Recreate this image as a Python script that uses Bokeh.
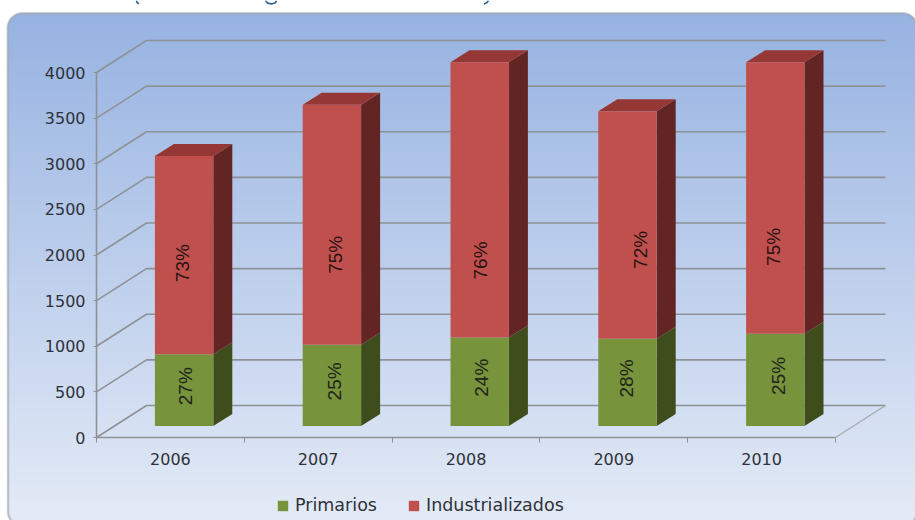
import numpy as np
from bokeh.core.properties import value
from bokeh.embed import file_html
from bokeh.models import FixedTicker, Legend, LegendItem, LinearAxis, Range1d
from bokeh.plotting import figure
from bokeh.resources import INLINE

# Export values per year, split into primary and manufactured goods
anios = ["2006", "2007", "2008", "2009", "2010"]
primarios = [785, 890, 970, 955, 1010]
industrializados = [2175, 2630, 3015, 2495, 2975]
ticks_y = [0, 500, 1000, 1500, 2000, 2500, 3000, 3500, 4000]

# Percentage label placement: height above the seam, sideways nudge in pixels
altura_etiqueta = [1000, 986, 844, 975, 953]
desvio_sup = [-2, 4, 1, 12.5, -2]
desvio_inf = [1.5, 3, 1.5, -1, 3]

W, H = 915, 520
AX_X, AX_Y = 96, 437           # canvas position of the (first edge, 0) corner
UNIT_X = 147.8                 # pixels per category
KY = 4000 / 365                # value units per pixel
KX = 1 / UNIT_X                # category units per pixel

x_start = -0.5 - AX_X * KX
y_start = -(H - AX_Y) * KY

p = figure(
    width=W, height=H, output_backend="svg", toolbar_location=None,
    x_range=Range1d(x_start, x_start + W * KX),
    y_range=Range1d(y_start, y_start + H * KY),
    x_axis_type=None, y_axis_type=None, min_border=0,
)
p.grid.visible = False
p.outline_line_color = None
p.background_fill_alpha = 0
p.border_fill_color = "#ffffff"

# Rounded panel with a vertical gradient
yy, xx = np.mgrid[0:H, 0:W] + 0.5
L, T, R, B, RAD = 7.0, 12.5, 917.0, 526.0, 15.0
qx = np.abs(xx - (L + R) / 2) - ((R - L) / 2 - RAD)
qy = np.abs(yy - (T + B) / 2) - ((B - T) / 2 - RAD)
sd = np.hypot(np.maximum(qx, 0), np.maximum(qy, 0)) + np.minimum(np.maximum(qx, qy), 0) - RAD
t = np.clip((yy - T) / (H - T), 0, 1)[..., None]
top_col, bot_col = np.array([151, 179, 226.0]), np.array([228, 235, 247.0])
rgb = top_col * (1 - t) + bot_col * t
edge = np.clip(1.2 - np.abs(sd + 0.6), 0, 1)[..., None]
rgb = rgb * (1 - edge) + np.array([165, 168, 172.0]) * edge
inside = np.clip(0.5 - sd + 0.6, 0, 1)
img = np.dstack([rgb, inside * 255]).astype(np.uint8)[::-1]
p.image_rgba(image=[img.view(np.uint32).reshape(H, W)], x=x_start, y=y_start,
             dw=W * KX, dh=H * KY)


def lienzo_x(px):
    return -0.5 + (px - AX_X) * KX


def lienzo_y(py):
    return (AX_Y - py) * KY


# Tail strokes of the heading that runs off the top of the page
for pts in ([(136, 0), (136.5, 2), (138.5, 3.2)],
            [(265, 0), (267, 2.6), (271, 3.4), (275, 2.2), (276, 0)],
            [(488, 0), (486.5, 2), (483.5, 3.6)]):
    p.line([lienzo_x(a) for a, _ in pts], [lienzo_y(b) for _, b in pts],
           line_color="#2f6096", line_width=1.6)

# Back wall and floor lines, drawn in the oblique projection
DEPTH_X, DEPTH_Y = 50 * KX, 32 * KY
FLOOR_R = 4.5
grid_xs = [[-0.5, -0.5 + DEPTH_X, FLOOR_R + DEPTH_X] for _ in ticks_y]
grid_ys = [[v, v + DEPTH_Y, v + DEPTH_Y] for v in ticks_y]
p.multi_line(grid_xs, grid_ys, line_color="#8e9296", line_width=1.6)
p.line([FLOOR_R, FLOOR_R + DEPTH_X], [0, DEPTH_Y], line_color="#a8abaf", line_width=1.4)

# Real axes pinned to the front edge of the floor
centros = list(range(len(anios)))
bordes = [c - 0.5 for c in centros] + [centros[-1] + 0.5]
eje_y = LinearAxis(
    fixed_location=-0.5, bounds=(0, 4000), ticker=FixedTicker(ticks=ticks_y),
    axis_line_color="#8e9296", axis_line_width=1.6,
    major_tick_line_color="#8e9296", major_tick_in=0, major_tick_out=3,
    minor_tick_line_color=None,
    major_label_text_font="DejaVu Sans", major_label_text_font_size="16px",
    major_label_text_color="#2f3238", major_label_standoff=8,
)
p.add_layout(eje_y, "left")
eje_x = LinearAxis(
    fixed_location=0, bounds=(-0.5, FLOOR_R),
    ticker=FixedTicker(ticks=centros, minor_ticks=bordes),
    major_label_overrides={c: a for c, a in zip(centros, anios)},
    axis_line_color="#8e9296", axis_line_width=1.6,
    major_tick_line_color=None, major_tick_in=0, major_tick_out=0,
    minor_tick_line_color="#8e9296", minor_tick_in=0, minor_tick_out=5,
    major_label_text_font="DejaVu Sans", major_label_text_font_size="16px",
    major_label_text_color="#2f3238", major_label_standoff=10,
)
p.add_layout(eje_x, "below")

# Stacked bars standing slightly back from the floor's front edge
BAR_OFF, BAR_W = 13.7 * KX, 58.4 * KX
BAR_DX, BAR_DY = 19 * KX, 12 * KY
BASE = 11.5 * KY
izq = np.array(centros) - BAR_W / 2 + BAR_OFF
der = izq + BAR_W
prim = np.array(primarios, dtype=float)
ind = np.array(industrializados, dtype=float)
tope1 = BASE + prim
tope2 = tope1 + ind


def lado(bajo, alto):
    xs = [[r, r + BAR_DX, r + BAR_DX, r] for r in der]
    ys = [[b, b + BAR_DY, a + BAR_DY, a] for b, a in zip(bajo, alto)]
    return xs, ys


base_arr = np.full(len(anios), BASE)
xs, ys = lado(base_arr, tope1)
p.patches(xs, ys, fill_color="#3f4d1c", line_color=None)
xs, ys = lado(tope1, tope2)
p.patches(xs, ys, fill_color="#632523", line_color=None)
p.patches([[l, l + BAR_DX, r + BAR_DX, r] for l, r in zip(izq, der)],
          [[a, a + BAR_DY, a + BAR_DY, a] for a in tope2],
          fill_color="#953735", line_color=None)
r_prim = p.quad(left=izq, right=der, bottom=base_arr, top=tope1,
                fill_color="#77933c", line_color=None)
r_ind = p.quad(left=izq, right=der, bottom=tope1, top=tope2,
               fill_color="#c0504d", line_color=None)

# Rotated percentage labels, computed from the values
totales = prim + ind
centro_barra = izq + BAR_W / 2
p.text(list(centro_barra + np.array(desvio_inf) * KX), list((BASE + tope1) / 2 + 4 * KY),
       text=[f"{round(v * 100)}%" for v in prim / totales], angle=np.pi / 2,
       text_align="center", text_baseline="middle", text_color="#20241a",
       text_font=value("Liberation Sans"), text_font_size="19px")
p.text(list(centro_barra + np.array(desvio_sup) * KX), list(tope1 + np.array(altura_etiqueta)),
       text=[f"{round(v * 100)}%" for v in ind / totales], angle=np.pi / 2,
       text_align="center", text_baseline="middle", text_color="#2a1212",
       text_font=value("Liberation Sans"), text_font_size="19px")

legend = Legend(
    items=[LegendItem(label="Primarios", renderers=[r_prim]),
           LegendItem(label="Industrializados", renderers=[r_ind])],
    orientation="horizontal", location=(276, 5), margin=0, padding=0, spacing=30,
    glyph_width=13, glyph_height=13, label_standoff=6,
    background_fill_alpha=0, border_line_alpha=0,
    label_text_font="DejaVu Sans", label_text_font_size="17.5px",
    label_text_color="#2f3238",
)
p.add_layout(legend, "center")

open("out.html", "w").write(file_html(p, INLINE))
